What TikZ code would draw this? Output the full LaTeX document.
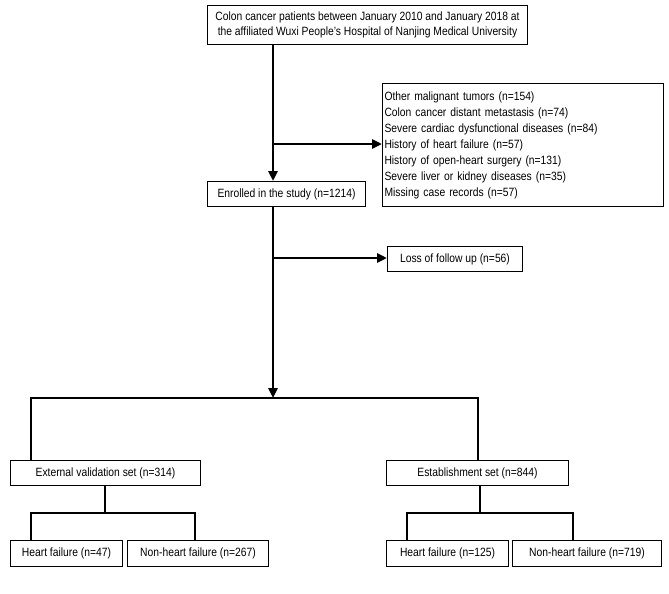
\documentclass[tikz,border=0pt]{standalone}
\usepackage{fontspec}
\setmainfont[FakeStretch=0.86]{Liberation Sans}
\usetikzlibrary{arrows.meta}
\begin{document}
\begin{tikzpicture}[x=1pt,y=-1pt,
  bx/.style={draw,line width=1pt,inner sep=2pt,font=\fontsize{12}{16}\selectfont,anchor=north west},
  ln/.style={line width=2.8pt},
  ar/.style={line width=2.8pt,-{Triangle[length=10pt,width=9pt]}}]
\useasboundingbox (0,0) rectangle (669,594);
\node[bx,align=center,minimum width=320pt,minimum height=39pt,font=\fontsize{12}{14.5}\selectfont] (top) at (207,5) {Colon cancer patients between January 2010 and January 2018 at\\the affiliated Wuxi People's Hospital of Nanjing Medical University};
\node[bx,align=left,text width=277pt,minimum height=123pt] (exc) at (382,83) {Other malignant tumors (n=154)\\Colon cancer distant metastasis (n=74)\\Severe cardiac dysfunctional diseases (n=84)\\History of heart failure (n=57)\\History of open-heart surgery (n=131)\\Severe liver or kidney diseases (n=35)\\Missing case records (n=57)};
\node[bx,minimum width=158pt,minimum height=25pt] (enr) at (207,181) {Enrolled in the study (n=1214)};
\node[bx,minimum width=135pt,minimum height=25pt] (loss) at (387,246) {Loss of follow up (n=56)};
\node[bx,minimum width=190pt,minimum height=25pt] (ext) at (10,460) {External validation set (n=314)};
\node[bx,minimum width=182pt,minimum height=25pt] (est) at (386,460) {Establishment set (n=844)};
\node[bx,minimum width=112pt,minimum height=26pt] (h1) at (10,540) {Heart failure (n=47)};
\node[bx,minimum width=141pt,minimum height=26pt] (n1) at (127,540) {Non-heart failure (n=267)};
\node[bx,minimum width=122pt,minimum height=26pt] (h2) at (386,540) {Heart failure (n=125)};
\node[bx,minimum width=149pt,minimum height=26pt] (n2) at (512,540) {Non-heart failure (n=719)};
\coordinate (c1) at (273,144);
\coordinate (c2) at (273,258);
\coordinate (c3) at (273,398);
\coordinate (e1) at (31,0);
\coordinate (e2) at (478,0);
\coordinate (d1) at (105,513);
\coordinate (d2) at (480,513);
\coordinate (f1) at (31,0);
\coordinate (f2) at (195,0);
\coordinate (g1) at (407,0);
\coordinate (g2) at (573,0);
\draw[ar] (top.south -| c1) -- (enr.north -| c1);
\draw[ar] (c1) -- (c1 -| exc.west);
\draw[ar] (enr.south -| c1) -- (c3);
\draw[ar] (c2) -- (c2 -| loss.west);
\draw[ln] (ext.north -| e1) |- (c3) -| (est.north -| e2);
\draw[ln] (ext.south -| d1) -- (d1);
\draw[ln] (h1.north -| f1) |- (d1) -| (n1.north -| f2);
\draw[ln] (est.south -| d2) -- (d2);
\draw[ln] (h2.north -| g1) |- (d2) -| (n2.north -| g2);
\end{tikzpicture}
\end{document}
